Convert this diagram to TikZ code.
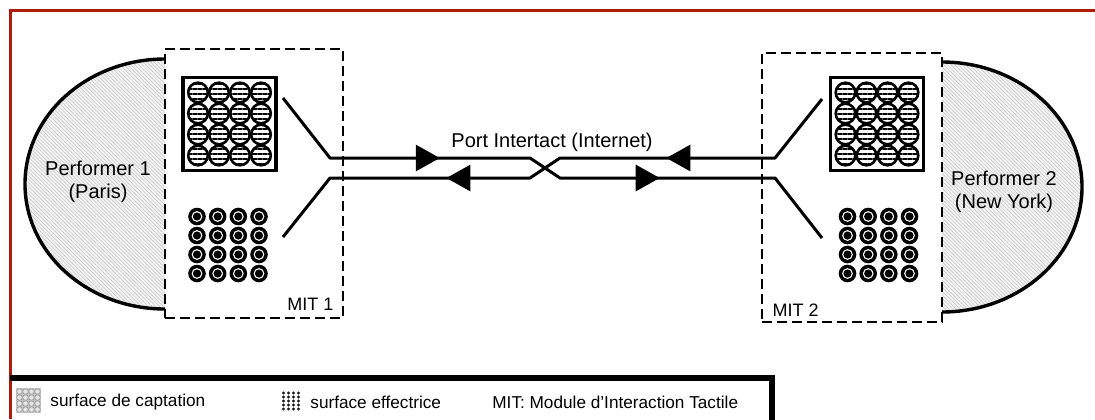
\documentclass[tikz,border=0pt]{standalone}
\usepackage{fontspec}
\setmainfont{Liberation Sans}
\usetikzlibrary{arrows.meta,decorations.markings,patterns.meta}
\definecolor{framered}{RGB}{172,28,12}
\tikzstyle{mitbox} = [draw=black, line width=0.75pt, dash pattern=on 5pt off 2.5pt, rectangle, inner sep=0pt]
\tikzstyle{perfshape} = [preaction={fill=gray!10}, pattern={Lines[angle=-45,distance=1.3pt,line width=0.25pt]}, pattern color=gray!45]
\tikzstyle{perfedge} = [line width=1.7pt]
\tikzstyle{perftext} = [align=center, font=\fontsize{10}{11.5}\selectfont]
\tikzstyle{capbox} = [draw=black, line width=1.6pt, fill=white, rectangle, minimum size=46.5pt, inner sep=0pt]
\tikzstyle{capcell} = [draw=black, line width=1.3pt, pattern={Lines[angle=0,distance=2.5pt,line width=1pt]}]
\tikzstyle{effgrid} = [rectangle, minimum width=40pt, minimum height=37pt, inner sep=0pt]
\tikzstyle{link} = [line width=1.5pt, line join=round]
\tikzstyle{legendtext} = [anchor=west, inner sep=0pt, font=\fontsize{8.6}{10}\selectfont]
\tikzset{flowmarks/.style 2 args={postaction={decorate}, decoration={markings,
    mark=at position #1 with {\arrow{Triangle[length=12pt,width=13pt]}},
    mark=at position #2 with {\arrow{Triangle[length=12pt,width=13pt]}}}}}
\begin{document}
\begin{tikzpicture}[x=0.5pt, y=-0.5pt]
\useasboundingbox (0,0) rectangle (1095,419);
% cadre
\draw[framered, line width=1.5pt] (10,419) -- (10,10) -- (1095,10);

% performers
\path[perfshape] (165,59) arc[start angle=90, end angle=270, x radius=70pt, y radius=62.5pt] -- cycle;
\draw[perfedge] (165,59) arc[start angle=90, end angle=270, x radius=70pt, y radius=62.5pt];
\path[perfshape] (942,62) arc[start angle=90, end angle=-90, x radius=70pt, y radius=62.5pt] -- cycle;
\draw[perfedge] (942,62) arc[start angle=90, end angle=-90, x radius=70pt, y radius=62.5pt];
\node[perftext] (perfP) at (98,182) {Performer 1\\(Paris)};
\node[perftext] (perfN) at (1004,192) {Performer 2\\(New York)};

% modules
\node[mitbox, minimum width=89pt, minimum height=134.5pt] (mitP) at (254,183.5) {};
\node[mitbox, minimum width=90pt, minimum height=134.5pt] (mitN) at (852,187.5) {};
\node[font=\fontsize{9}{10}\selectfont, anchor=south east, inner sep=0pt] (labP) at ([shift={(-10,-8)}]mitP.south east) {MIT 1};
\node[font=\fontsize{9}{10}\selectfont, anchor=south west, inner sep=0pt] (labN) at ([shift={(11,-6)}]mitN.south west) {MIT 2};

% surfaces de captation
\node[capbox] (capP) at (229.5,124) {};
\node[capbox] (capN) at (877,124) {};
\foreach \s in {capP,capN}
  \foreach \cx in {-31.5,-10.5,10.5,31.5}
    \foreach \cy in {-31.5,-10.5,10.5,31.5}
      \draw[capcell] ([shift={(\cx,\cy)}]\s.center) circle[radius=4.9pt];

% surfaces effectrices
\node[effgrid] (effP) at (228,245) {};
\node[effgrid] (effN) at (878.5,245) {};
\foreach \s in {effP,effN}
  \foreach \cx in {-31,-10.33,10.33,31}
    \foreach \cy in {-28.5,-9.5,9.5,28.5} {
      \fill[black] ([shift={(\cx,\cy)}]\s.center) circle[radius=4.4pt];
      \fill[white] ([shift={(\cx,\cy)}]\s.center) circle[radius=2.7pt];
      \fill[black] ([shift={(\cx,\cy)}]\s.center) circle[radius=2.05pt];
    }

% liaisons
\coordinate (capPout) at (283,98);
\coordinate (effPin) at (283,237);
\coordinate (capNout) at (822,99);
\coordinate (effNin) at (822,238);
\coordinate (bendPu) at (330,158);
\coordinate (bendPl) at (330,178);
\coordinate (crossLu) at (530,158);
\coordinate (crossLl) at (530,178);
\coordinate (crossRu) at (560,158);
\coordinate (crossRl) at (560,178);
\coordinate (bendNu) at (775,158);
\coordinate (bendNl) at (775,178);
\draw[link, flowmarks={93pt}{206pt}] (capPout) -- (bendPu) -- (crossLu) -- (crossRl) -- (bendNl) -- (effNin);
\draw[link, flowmarks={92pt}{205pt}] (capNout) -- (bendNu) -- (crossRu) -- (crossLl) -- (bendPl) -- (effPin);
\node[font=\fontsize{10}{12}\selectfont] (port) at (552,142) {Port Intertact (Internet)};

% legende
\draw[line width=3pt] (10,378) -- (772,378) -- (772,422);
\node[rectangle, fill=gray!45, minimum size=12.5pt, inner sep=0pt] (legcap) at (28.5,400.5) {};
\foreach \cx in {-9,-3,3,9}
  \foreach \cy in {-9,-3,3,9}
    \draw[gray!75, fill=gray!20, line width=0.4pt] ([shift={(\cx,\cy)}]legcap.center) circle[radius=1.4pt];
\node[legendtext] (legcaptxt) at (50,402) {surface de captation};
\node[rectangle, minimum size=11pt, inner sep=0pt] (legeff) at (291,401) {};
\foreach \cx in {-7.5,-2.5,2.5,7.5}
  \foreach \cy in {-8,-4,0,4,8}
    \fill[gray!20!black] ([shift={(\cx,\cy)}]legeff.center) circle[radius=0.8pt];
\node[legendtext] (legefftxt) at (310,402) {surface effectrice};
\node[legendtext] (legmit) at (492,402) {MIT: Module d’Interaction Tactile};
\end{tikzpicture}
\end{document}
